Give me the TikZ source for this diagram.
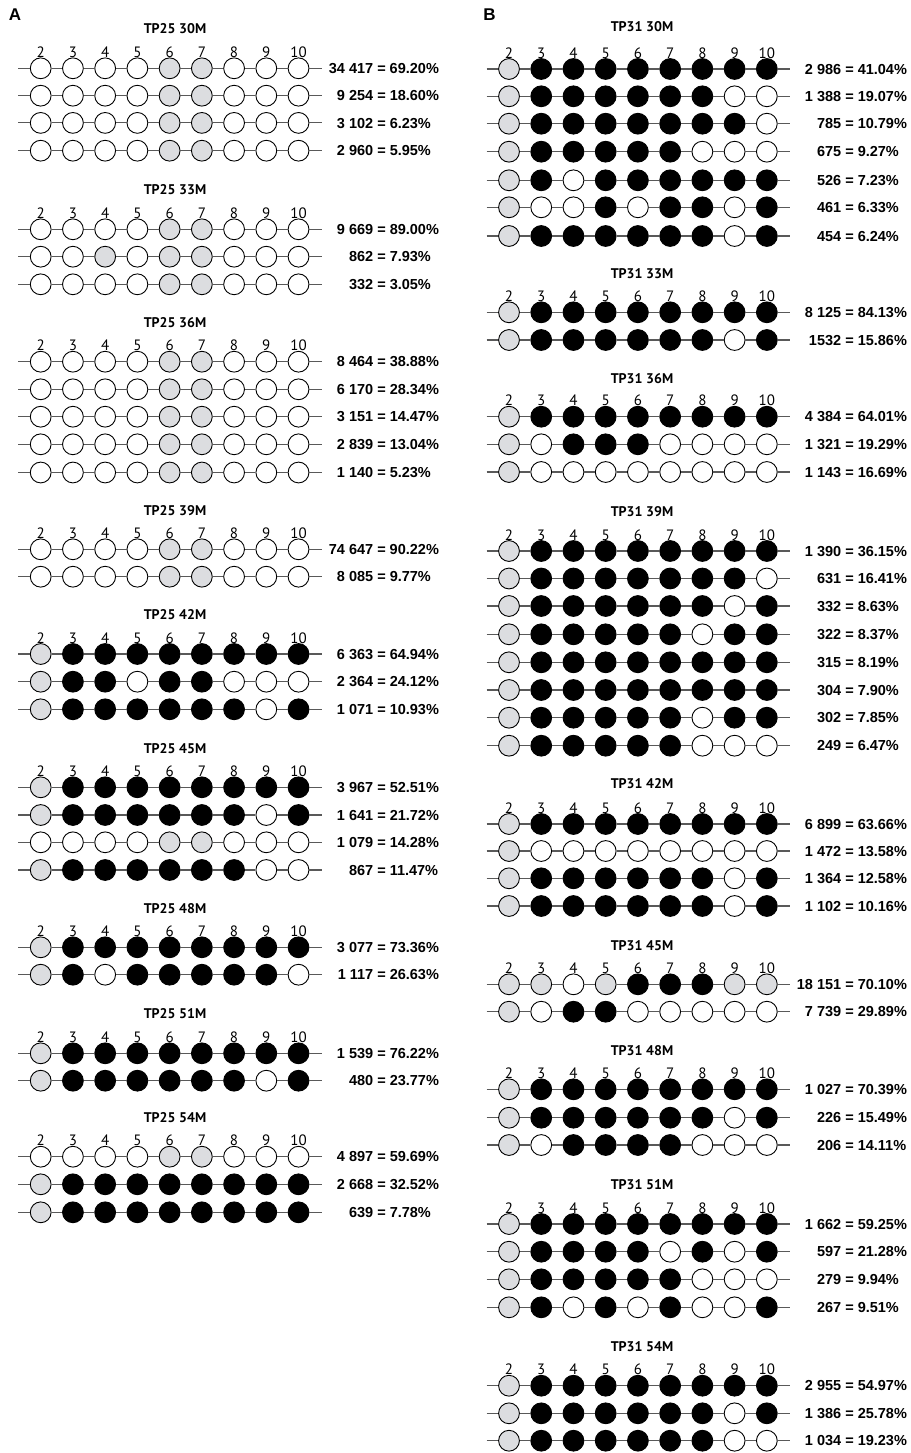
\documentclass[tikz,border=0pt]{standalone}
\usepackage{fontspec}
\setmainfont{Liberation Sans}
\newfontfamily\ptsans{PT Sans}
\definecolor{G}{HTML}{DCDDE0}
\colorlet{W}{white}
\colorlet{K}{black}
\tikzset{
 circ/.style={circle,draw=black,line width=0.9pt,minimum size=20.8pt,inner sep=0pt},
 rowline/.style={draw=black!65,line width=1.2pt},
 lab/.style={font=\bfseries\fontsize{14.5}{16}\selectfont,inner sep=0pt,anchor=base},
 num/.style={font=\ptsans\fontsize{15}{16}\selectfont,inner sep=0pt,anchor=base},
 ttl/.style={font=\ptsans\bfseries\fontsize{14}{15}\selectfont,inner sep=0pt,anchor=base},
 panel/.style={font=\bfseries\fontsize{17}{18}\selectfont,inner sep=0pt,anchor=base},
}
% id, x0, xeq, y, pattern, count, pct
\newcommand\prow[7]{%
  \foreach \s [count=\i] in {#5}{\node[circ,fill=\s] (#1c\i) at ({#2+(\i-1)*32.23},#4) {};}
  \coordinate (#1s) at ({#2-22.5},#4);
  \coordinate (#1e) at ({#2+8*32.23+23.5},#4);
  \draw[rowline] (#1s) -- (#1c1) -- (#1c2) -- (#1c3) -- (#1c4) -- (#1c5) -- (#1c6) -- (#1c7) -- (#1c8) -- (#1c9) -- (#1e);
  \node[lab] (#1t) at (#3,{#4+5.2}) {\llap{#6\ }=\rlap{\ #7}};
}
% id, x0, y of first row
\newcommand\cols[3]{\foreach \k [count=\i] in {2,...,10}{\node[num] (#1n\k) at ({#2+(\i-1)*32.23},{#3-10.8}) {\k};}}
\newcommand\ttlA[3]{\node[ttl] (#1) at (175,{#2+4.7}) {#3};}
\newcommand\ttlB[3]{\node[ttl] (#1) at (642,{#2+4.7}) {#3};}
\begin{document}
\begin{tikzpicture}[x=1pt,y=-1pt]
\useasboundingbox (0,0) rectangle (910,1453);
\node[panel] (pA) at (15,21) {A};
\node[panel] (pB) at (489.5,21) {B};
% ---------------- Panel A ----------------
\def\xa{40.7}\def\ea{381.5}
\ttlA{tA30}{29}{TP25 30M}
\prow{a01}{\xa}{\ea}{68.3}{W,W,W,W,G,G,W,W,W}{34 417}{69.20\%}
\prow{a02}{\xa}{\ea}{95.7}{W,W,W,W,G,G,W,W,W}{9 254}{18.60\%}
\prow{a03}{\xa}{\ea}{122.9}{W,W,W,W,G,G,W,W,W}{3 102}{6.23\%}
\prow{a04}{\xa}{\ea}{150.7}{W,W,W,W,G,G,W,W,W}{2 960}{5.95\%}
\cols{hA30}{\xa}{68.3}
\ttlA{tA33}{190}{TP25 33M}
\prow{a05}{\xa}{\ea}{229.3}{W,W,W,W,G,G,W,W,W}{9 669}{89.00\%}
\prow{a06}{\xa}{\ea}{256.7}{W,W,G,W,G,G,W,W,W}{862}{7.93\%}
\prow{a07}{\xa}{\ea}{284.3}{W,W,W,W,G,G,W,W,W}{332}{3.05\%}
\cols{hA33}{\xa}{229.3}
\ttlA{tA36}{322.7}{TP25 36M}
\prow{a08}{\xa}{\ea}{361.7}{W,W,W,W,G,G,W,W,W}{8 464}{38.88\%}
\prow{a09}{\xa}{\ea}{389.3}{W,W,W,W,G,G,W,W,W}{6 170}{28.34\%}
\prow{a10}{\xa}{\ea}{416.7}{W,W,W,W,G,G,W,W,W}{3 151}{14.47\%}
\prow{a11}{\xa}{\ea}{444.3}{W,W,W,W,G,G,W,W,W}{2 839}{13.04\%}
\prow{a12}{\xa}{\ea}{472.5}{W,W,W,W,G,G,W,W,W}{1 140}{5.23\%}
\cols{hA36}{\xa}{361.7}
\ttlA{tA39}{510.7}{TP25 39M}
\prow{a13}{\xa}{\ea}{549.3}{W,W,W,W,G,G,W,W,W}{74 647}{90.22\%}
\prow{a14}{\xa}{\ea}{576.7}{W,W,W,W,G,G,W,W,W}{8 085}{9.77\%}
\cols{hA39}{\xa}{549.3}
\ttlA{tA42}{615}{TP25 42M}
\prow{a15}{\xa}{\ea}{654}{G,K,K,K,K,K,K,K,K}{6 363}{64.94\%}
\prow{a16}{\xa}{\ea}{681.7}{G,K,K,W,K,K,W,W,W}{2 364}{24.12\%}
\prow{a17}{\xa}{\ea}{709.3}{G,K,K,K,K,K,K,W,K}{1 071}{10.93\%}
\cols{hA42}{\xa}{654}
\ttlA{tA45}{748.3}{TP25 45M}
\prow{a18}{\xa}{\ea}{787.3}{G,K,K,K,K,K,K,K,K}{3 967}{52.51\%}
\prow{a19}{\xa}{\ea}{815}{G,K,K,K,K,K,K,W,K}{1 641}{21.72\%}
\prow{a20}{\xa}{\ea}{842.3}{W,W,W,W,G,G,W,W,W}{1 079}{14.28\%}
\prow{a21}{\xa}{\ea}{870}{G,K,K,K,K,K,K,W,W}{867}{11.47\%}
\cols{hA45}{\xa}{787.3}
\ttlA{tA48}{908.3}{TP25 48M}
\prow{a22}{\xa}{\ea}{947.3}{G,K,K,K,K,K,K,K,K}{3 077}{73.36\%}
\prow{a23}{\xa}{\ea}{974.7}{G,K,W,K,K,K,K,K,W}{1 117}{26.63\%}
\cols{hA48}{\xa}{947.3}
\ttlA{tA51}{1013.3}{TP25 51M}
\prow{a24}{\xa}{\ea}{1053.3}{G,K,K,K,K,K,K,K,K}{1 539}{76.22\%}
\prow{a25}{\xa}{\ea}{1080.7}{G,K,K,K,K,K,K,W,K}{480}{23.77\%}
\cols{hA51}{\xa}{1053.3}
\ttlA{tA54}{1117.7}{TP25 54M}
\prow{a26}{\xa}{\ea}{1156.7}{W,W,W,W,G,G,W,W,W}{4 897}{59.69\%}
\prow{a27}{\xa}{\ea}{1184.3}{G,K,K,K,K,K,K,K,K}{2 668}{32.52\%}
\prow{a28}{\xa}{\ea}{1212.3}{G,K,K,K,K,K,K,K,K}{639}{7.78\%}
\cols{hA54}{\xa}{1156.7}
% ---------------- Panel B ----------------
\def\xb{509}\def\eb{849.5}
\ttlB{tB30}{26.7}{TP31 30M}
\prow{b01}{\xb}{\eb}{69}{G,K,K,K,K,K,K,K,K}{2 986}{41.04\%}
\prow{b02}{\xb}{\eb}{96.3}{G,K,K,K,K,K,K,W,W}{1 388}{19.07\%}
\prow{b03}{\xb}{\eb}{123.7}{G,K,K,K,K,K,K,K,W}{785}{10.79\%}
\prow{b04}{\xb}{\eb}{151.7}{G,K,K,K,K,K,W,W,W}{675}{9.27\%}
\prow{b05}{\xb}{\eb}{180.3}{G,K,W,K,K,K,K,K,K}{526}{7.23\%}
\prow{b06}{\xb}{\eb}{207.3}{G,W,W,K,W,K,K,W,K}{461}{6.33\%}
\prow{b07}{\xb}{\eb}{236}{G,K,K,K,K,K,K,W,K}{454}{6.24\%}
\cols{hB30}{\xb}{69}
\ttlB{tB33}{273.3}{TP31 33M}
\prow{b08}{\xb}{\eb}{312.3}{G,K,K,K,K,K,K,K,K}{8 125}{84.13\%}
\prow{b09}{\xb}{\eb}{340}{G,K,K,K,K,K,K,W,K}{1532}{15.86\%}
\cols{hB33}{\xb}{312.3}
\ttlB{tB36}{378.3}{TP31 36M}
\prow{b10}{\xb}{\eb}{416.7}{G,K,K,K,K,K,K,K,K}{4 384}{64.01\%}
\prow{b11}{\xb}{\eb}{444.3}{G,W,K,K,K,W,W,W,W}{1 321}{19.29\%}
\prow{b12}{\xb}{\eb}{472}{G,W,W,W,W,W,W,W,W}{1 143}{16.69\%}
\cols{hB36}{\xb}{416.7}
\ttlB{tB39}{511.7}{TP31 39M}
\prow{b13}{\xb}{\eb}{551}{G,K,K,K,K,K,K,K,K}{1 390}{36.15\%}
\prow{b14}{\xb}{\eb}{578.5}{G,K,K,K,K,K,K,K,W}{631}{16.41\%}
\prow{b15}{\xb}{\eb}{606}{G,K,K,K,K,K,K,W,K}{332}{8.63\%}
\prow{b16}{\xb}{\eb}{634.3}{G,K,K,K,K,K,W,K,K}{322}{8.37\%}
\prow{b17}{\xb}{\eb}{662.3}{G,K,K,K,K,K,K,K,K}{315}{8.19\%}
\prow{b18}{\xb}{\eb}{690}{G,K,K,K,K,K,K,K,K}{304}{7.90\%}
\prow{b19}{\xb}{\eb}{717.7}{G,K,K,K,K,K,W,K,K}{302}{7.85\%}
\prow{b20}{\xb}{\eb}{745.7}{G,K,K,K,K,K,W,W,W}{249}{6.47\%}
\cols{hB39}{\xb}{551}
\ttlB{tB42}{784}{TP31 42M}
\prow{b21}{\xb}{\eb}{824}{G,K,K,K,K,K,K,K,K}{6 899}{63.66\%}
\prow{b22}{\xb}{\eb}{851}{G,W,W,W,W,W,W,W,W}{1 472}{13.58\%}
\prow{b23}{\xb}{\eb}{878.3}{G,K,K,K,K,K,K,W,K}{1 364}{12.58\%}
\prow{b24}{\xb}{\eb}{906}{G,K,K,K,K,K,K,W,K}{1 102}{10.16\%}
\cols{hB42}{\xb}{824}
\ttlB{tB45}{946}{TP31 45M}
\prow{b25}{\xb}{\eb}{984.3}{G,G,W,G,K,K,K,G,G}{18 151}{70.10\%}
\prow{b26}{\xb}{\eb}{1011.7}{G,W,K,K,W,W,W,W,W}{7 739}{29.89\%}
\cols{hB45}{\xb}{984.3}
\ttlB{tB48}{1050.7}{TP31 48M}
\prow{b27}{\xb}{\eb}{1089.3}{G,K,K,K,K,K,K,K,K}{1 027}{70.39\%}
\prow{b28}{\xb}{\eb}{1117.7}{G,K,K,K,K,K,K,W,K}{226}{15.49\%}
\prow{b29}{\xb}{\eb}{1145}{G,W,K,K,K,K,W,W,W}{206}{14.11\%}
\cols{hB48}{\xb}{1089.3}
\ttlB{tB51}{1185}{TP31 51M}
\prow{b30}{\xb}{\eb}{1224}{G,K,K,K,K,K,K,K,K}{1 662}{59.25\%}
\prow{b31}{\xb}{\eb}{1251.7}{G,K,K,K,K,W,K,W,K}{597}{21.28\%}
\prow{b32}{\xb}{\eb}{1279.3}{G,K,K,K,K,K,W,W,W}{279}{9.94\%}
\prow{b33}{\xb}{\eb}{1307.3}{G,K,W,K,W,K,W,W,K}{267}{9.51\%}
\cols{hB51}{\xb}{1224}
\ttlB{tB54}{1346.7}{TP31 54M}
\prow{b34}{\xb}{\eb}{1385.7}{G,K,K,K,K,K,K,K,K}{2 955}{54.97\%}
\prow{b35}{\xb}{\eb}{1413.3}{G,K,K,K,K,K,K,W,K}{1 386}{25.78\%}
\prow{b36}{\xb}{\eb}{1440.7}{G,K,K,K,K,K,K,W,W}{1 034}{19.23\%}
\cols{hB54}{\xb}{1385.7}
\end{tikzpicture}
\end{document}
